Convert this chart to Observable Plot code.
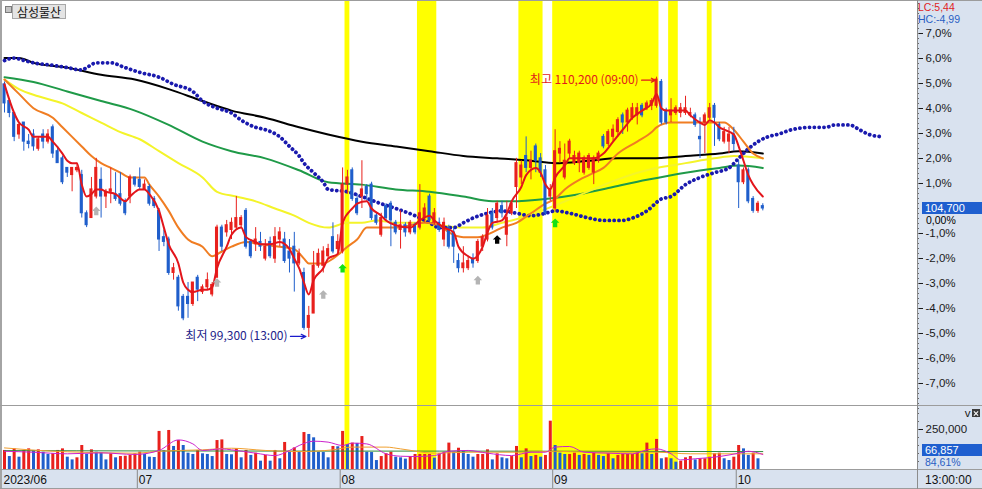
<!DOCTYPE html>
<html><head><meta charset="utf-8">
<script src="https://cdn.jsdelivr.net/npm/d3@7"></script>
<script src="https://cdn.jsdelivr.net/npm/@observablehq/plot@0.6"></script>
<style>
html,body{margin:0;padding:0;background:#fff;}
#wrap{position:relative;width:982px;height:489px;overflow:hidden;background:#fff;font-family:"Liberation Sans","Noto Sans CJK KR",sans-serif;}
#wrap svg{position:absolute;left:0;overflow:visible;background:transparent;}
.abs{position:absolute;}
.lbl{position:absolute;font-size:11px;line-height:12px;height:12px;white-space:nowrap;}
</style></head>
<body><div id="wrap"></div>
<script>
// ---------------- DATA ----------------
const stockName = "삼성물산";
const open = [109900,109200,108700,107800,108300,107500,107800,107200,107800,107500,108100,107100,106800,106400,106100,106300,106100,104500,104300,105200,105900,105200,105400,105300,105300,105000,105200,106000,105900,105500,105600,105100,104600,103500,103400,102000,101800,101000,101000,100700,101800,101200,101400,101100,101800,103900,103700,103800,103900,104000,104600,103300,103200,103300,102600,103300,102600,103400,103400,102900,103100,102400,102000,99700,100300,102300,102300,102700,103500,103000,102900,105700,106300,105100,105200,105600,105700,104400,103600,104800,104900,104100,103800,104000,103700,104000,103900,104300,105200,104100,104100,103400,103900,103700,102500,102200,102200,102600,102500,103100,103400,104500,104300,104800,103600,104500,105600,106000,106900,106400,107300,106800,106300,105200,104700,107000,106000,107000,106600,106600,106200,106400,106200,106700,107700,107400,107700,107900,108600,108300,108500,108600,109000,108900,109000,109000,110000,108800,108600,108700,108700,108700,108600,108600,107700,108300,108500,109000,108200,107500,107500,107800,106500,105800,106300,105100,104600,104800];
const high = [110000,109300,108700,108300,108300,107800,108000,107700,108000,108000,108200,107300,106900,106400,106400,106600,106300,104600,106000,106800,106400,105500,106400,106200,106200,105100,106100,106000,106400,105900,105700,105200,104700,103800,103500,102400,101900,101100,101600,101600,101900,101500,102000,101600,104000,104000,104200,104300,105200,104400,104700,103400,103900,103700,103400,103500,103900,103900,103700,103400,103700,103000,102200,100600,102900,103000,103100,103200,104100,103600,106400,106300,106400,105300,106700,105700,105800,104500,104500,104900,105000,104200,104600,104100,104200,104100,105700,104900,105300,104700,104300,104300,104000,103900,102800,103100,102700,102800,103400,103600,104700,104700,105000,105000,105000,105000,106800,106700,107700,107100,107400,107000,106500,105700,108000,107500,107400,107600,107100,107100,106900,107000,106900,107100,107800,108000,108200,108500,108700,108900,109100,109100,109100,109200,109300,110200,110100,108900,109300,109000,109100,109400,108900,108700,108500,108700,109100,109100,108300,108100,108100,108100,106700,106400,106400,105200,105000,104900];
const low = [108700,108500,107500,107600,107100,107200,107100,107100,107200,107400,106800,106600,105700,106000,105400,106200,104300,103900,104300,105100,104300,104700,104900,105000,104800,104400,104900,105600,105500,105500,104800,104700,102900,103100,101900,101700,100400,100000,100100,100600,100800,101100,101300,101000,101800,102900,103500,103400,103800,103900,103000,102600,102900,102900,102500,102600,102400,103100,102400,102000,101200,102300,99600,99300,100300,102200,102000,102600,102800,102800,102800,105300,105000,104400,104700,105000,104200,104000,103500,104200,103100,103600,103000,103500,103600,103600,103800,104100,104100,104000,103700,103100,103000,102400,102000,102000,102100,102200,102400,102900,103300,103800,104100,104300,103100,104400,104700,105700,106200,105900,106200,106000,104400,105000,104600,106600,105900,106800,106500,106200,106100,106300,105700,106600,107200,107300,107500,107700,107800,107900,108400,108200,108500,108800,108800,108900,108200,108200,108300,108600,108500,108600,108500,108100,106800,107000,108400,107300,107500,107400,107000,107100,104700,105700,104900,104500,104500,104600];
const close = [109100,108700,107700,108200,107500,107400,107300,107600,107500,107800,107000,106600,105800,106200,106400,106400,104500,104000,105500,106400,105200,105400,105500,105100,104900,104500,106000,105700,105600,105700,104900,104800,103400,103300,102000,102200,100600,100100,100700,101600,101300,101400,101700,101500,103900,103100,104000,104100,104300,104300,103100,102700,103400,103100,103100,102700,103500,103700,102500,102600,102400,102800,99700,100200,102300,102800,102900,103000,102900,103300,105700,106000,105100,104500,105500,105300,104300,104100,104300,104300,104200,103700,104000,103700,104100,103700,104500,104700,104200,104500,103800,104100,103100,103100,102200,102400,102500,102400,103300,103500,104400,103900,104900,104500,104300,104900,106600,106500,106400,106700,106700,106200,104500,105500,107100,107200,106700,107500,106900,107000,106800,106900,106800,107000,107300,107900,108000,108400,108300,108800,108900,108900,108600,109100,109200,110100,108300,108300,108800,108900,108900,108900,108700,108200,107600,108600,108900,108500,107600,107900,107800,107400,105800,106300,105000,104600,104900,104700];
const volume = [119000,81000,129000,77000,119000,129000,119000,123000,108000,94000,98000,119000,129000,77000,60000,73000,150000,94000,123000,108000,104000,60000,98000,73000,81000,83000,88000,98000,108000,94000,77000,75000,238000,119000,244000,144000,181000,150000,102000,94000,119000,98000,94000,81000,181000,185000,94000,92000,129000,73000,119000,88000,102000,52000,88000,52000,119000,67000,169000,108000,135000,108000,231000,219000,198000,108000,106000,73000,144000,142000,238000,156000,165000,163000,206000,108000,106000,56000,81000,98000,108000,77000,73000,65000,81000,94000,94000,94000,94000,71000,98000,108000,165000,108000,133000,115000,94000,77000,94000,94000,123000,60000,98000,73000,67000,81000,144000,73000,129000,81000,88000,77000,88000,302000,150000,102000,94000,94000,102000,88000,94000,88000,102000,88000,81000,98000,67000,88000,94000,94000,94000,108000,98000,165000,94000,188000,67000,73000,67000,46000,52000,73000,81000,60000,67000,67000,77000,98000,102000,67000,56000,77000,150000,129000,88000,102000,66857];
// short (red) moving average, read at sampled bars
const maRedIdx = [0,2,3,5,6,7,9,10,12,13,14,15,16,17,18,19,20,21,23,25,26,28,29,30,32,33,34,36,37,38,39,41,42,43,44,46,47,49,50,52,53,55,57,59,60,61,62,63,64,66,67,69,70,72,73,75,76,78,79,81,84,86,88,89,91,93,94,96,97,99,100,101,103,104,105,107,108,110,111,112,113,114,116,117,119,121,122,124,126,128,130,132,134,135,136,137,139,141,142,144,145,146,147,148,149,151,152,153,154,155,157];
const maRed = [109900,108700,108300,108000,107700,107700,107700,107500,107000,106700,106600,106600,105700,105200,105300,105500,105500,105400,105300,105000,105200,105500,105500,105300,104600,103900,103200,102400,101600,101300,101200,101300,101300,101400,102200,103100,103600,103900,103500,103300,103200,103200,103300,103000,102600,102200,101600,101100,101700,102200,102600,102800,104100,104700,104900,105000,104700,104400,104200,104000,103900,104200,104400,104200,103900,103700,103100,102700,102600,103100,103700,104100,104200,104500,105000,105600,106100,106400,106200,105700,105500,106000,106500,106800,106800,106800,106800,107000,107500,108000,108500,108800,109100,109500,108900,108800,108800,108800,108600,108300,108200,108400,108300,108100,108000,107800,107300,106700,106100,105700,105200];
const maOrangeIdx = [0,3,6,10,12,14,16,18,20,22,24,26,29,30,32,34,36,38,41,43,45,47,50,53,57,60,62,63,66,68,71,73,75,78,81,84,87,90,92,95,98,101,103,106,109,112,114,116,119,121,124,127,131,134,135,138,141,144,147,149,151,153,155,157];
const maOrange = [110100,109500,108900,108500,108100,107700,107300,106900,106600,106400,106200,106000,106000,105700,105200,104600,103900,103400,103100,102700,102900,103100,103300,103200,103100,103000,102600,102400,102400,102600,103100,103400,103900,103900,103900,104000,104100,104000,103700,103500,103500,103700,103900,104100,104500,104900,105100,105500,105900,106100,106400,107000,107500,107900,108100,108300,108300,108300,108300,108300,108000,107500,107000,106800];
const maYellowIdx = [0,3,7,12,16,20,24,28,32,36,41,44,48,52,56,60,63,67,71,74,77,81,86,90,95,99,103,105,135,141,147,151,157];
const maYellow = [110100,109700,109400,109100,108700,108300,107900,107600,107100,106600,106000,105400,105200,105000,104700,104400,104100,103900,104100,104100,104200,104100,104100,104000,103900,103900,104100,104200,106400,106600,106800,106900,106800];
const maGreenIdx = [0,6,13,20,27,34,41,47,54,61,67,74,81,88,95,101,105,112,119,126,133,141,148,152,157];
const maGreen = [110200,110000,109600,109200,108800,108200,107500,107100,106800,106300,105800,105700,105500,105400,105200,105000,105000,105100,105300,105600,105900,106200,106400,106500,106400];
const maBlackIdx = [0,3,6,13,20,27,34,41,47,54,61,67,74,81,88,95,102,109,114,121,127,134,141,148,152,157];
const maBlack = [111000,111000,110800,110600,110300,110100,109700,109200,108800,108500,108100,107800,107500,107300,107100,106900,106800,106700,106600,106700,106800,106800,106900,107000,107100,107000];
// leading span (blue dots), extends 26 bars past the last candle
const spanIdx = [0,2,4,6,10,13,16,17,19,22,25,28,32,35,39,41,44,47,49,52,54,57,59,61,62,64,66,67,71,74,78,81,85,88,90,93,95,97,100,103,106,109,112,114,117,121,124,128,130,133,136,138,141,144,147,150,152,154,156,158,160,163,167,170,172,175,177,179,182];
const span = [110900,111000,110900,110800,110700,110600,110500,110600,110800,110800,110600,110400,110200,109900,109600,109200,108900,108700,108400,108100,108000,107700,107300,106900,106600,106200,105800,105500,105400,105200,104900,104700,104400,104100,103900,103900,104100,104300,104500,104600,104500,104400,104500,104600,104500,104300,104200,104200,104300,104600,105100,105200,105700,106000,106200,106400,106800,107200,107500,107700,107800,108000,108100,108100,108200,108200,108000,107800,107700];
// volume moving averages
const vMa1Idx = [0,6,13,20,27,32,36,39,41,45,47,52,56,59,61,64,67,70,72,75,79,82,85,89,92,96,100,105,109,112,114,117,120,125,130,133,135,138,140,143,148,152,154,157];
const vMa1 = [114000,108000,98000,104000,94000,119000,185000,160000,119000,129000,123000,102000,87000,119000,150000,177000,171000,150000,165000,160000,98000,83000,81000,87000,114000,119000,102000,87000,108000,108000,140000,144000,108000,102000,98000,123000,129000,98000,60000,67000,81000,102000,114000,94000];
const vMa2Idx = [0,10,16,27,32,41,47,54,61,68,72,79,82,89,96,100,107,114,121,128,135,142,149,157];
const vMa2 = [135000,114000,108000,102000,114000,123000,133000,119000,112000,123000,140000,140000,129000,102000,108000,108000,108000,114000,108000,108000,108000,98000,98000,98000];
const vMa3Idx = [0,30,60,90,120,150,157];
const vMa3 = [118000,116000,115000,115000,114000,112000,112000];
// highlighted bar ranges (inclusive)
const hlStart = [71,86,107,114,138,146];
const hlEnd   = [71,89,111,135,139,146];
// signal arrows
const sigIdx   = [19,44,66,98,70,114,102];
const sigPrice = [104600,101600,101100,101700,102200,104100,103400];
const sigKind  = ["gray","gray","gray","gray","green","green","black"];
// month labels
const monthIdx = [0,28,70,114,152];
const monthLbl = ["2023/06","07","08","09","10"];
const hiTime = "09:00", loTime = "13:00";
const lcText = "LC:5,44", hcText = "HC:-4,99";
const volRatioText = "84,61%";
const timeText = "13:00:00";
const volTick = [250000];

// ---------------- LAYOUT ----------------
const FONT = '"Liberation Sans","Noto Sans CJK KR",sans-serif';
const KFONT = '"Noto Sans CJK KR","Liberation Sans",sans-serif';
const RED = "#e8201c", BLUE = "#1f5ecb";
const W = 982, PW = 917, HP = 405, HV = 65, HS = 19;
const S = 4.83, X0 = 4;
const xDomain = [-X0 / S, (PW - X0) / S];
const tick2 = 2 / S, xEnd = xDomain[1];
const base = close[close.length - 1];
const zeroY = 208, pxPerPct = 25;
const yDomain = [base * (1 - (HP - zeroY) / pxPerPct / 100), base * (1 + zeroY / pxPerPct / 100)];
const wrap = document.getElementById("wrap");
const comma = d3.format(",");
const pctFmt = v => { const p = Math.round((v / base - 1) * 1000) / 10; return p.toFixed(1).replace(".", ",") + "%"; };

const bars = close.map((c, i) => ({i, o: open[i], h: high[i], l: low[i], c}));
const col = d => d.c >= d.o ? RED : BLUE;
const hl = hlStart.map((s, k) => ({s, e: hlEnd[k]}));
const pts = (ix, vs) => ix.map((i, k) => ({i, v: vs[k]}));
const sigColor = {gray: "#b4b4b4", green: "#16e016", black: "#000000"};
const sigs = sigIdx.map((i, k) => ({i, v: sigPrice[k], c: sigColor[sigKind[k]]}));
const arrowSym = {draw(ctx, size) {
  const r = Math.sqrt(size / Math.PI);
  ctx.moveTo(0, -r); ctx.lineTo(r, 0); ctx.lineTo(r * 0.5, 0); ctx.lineTo(r * 0.5, r);
  ctx.lineTo(-r * 0.5, r); ctx.lineTo(-r * 0.5, 0); ctx.lineTo(-r, 0); ctx.closePath();
}};
const hiI = d3.maxIndex(high), loI = d3.minIndex(low);
const majorPct = [-7,-6,-5,-4,-3,-2,-1,1,2,3,4,5,6,7].map(p => base * (1 + p / 100));
const minorPct = d3.range(-80, 84, 2).map(k => base * (1 + k / 1000));

function bg(left, top, w, h, color) {
  const d = document.createElement("div"); d.className = "abs";
  Object.assign(d.style, {left: left + "px", top: top + "px", width: w + "px", height: h + "px", background: color});
  wrap.appendChild(d); return d;
}
// label positioned by its vertical centre
function labelC(text, left, cy, color, extra) {
  const d = document.createElement("div"); d.className = "lbl"; d.textContent = text;
  Object.assign(d.style, {left: left + "px", top: (cy - 6) + "px", color}, extra || {});
  wrap.appendChild(d); return d;
}

// backgrounds
bg(PW, 0, W - PW, 489, "#d9e2ef");
bg(0, HP + HV, W, HS, "#d9e2ef");

// ---------------- PRICE PANEL ----------------
const price = Plot.plot({
  width: W, height: HP, marginLeft: 0, marginRight: W - PW, marginTop: 0, marginBottom: 0,
  style: {background: "transparent", fontFamily: FONT, fontSize: "12px", overflow: "visible"},
  x: {type: "linear", domain: xDomain, axis: null},
  y: {type: "linear", domain: yDomain, axis: null},
  marks: [
    Plot.rect(hl, {x1: d => d.s - 0.5, x2: d => d.e + 0.5, fill: "#ffff00"}),
    Plot.line(pts(maBlackIdx, maBlack), {x: "i", y: "v", stroke: "#000", strokeWidth: 2, curve: "monotone-x"}),
    Plot.line(pts(maGreenIdx, maGreen), {x: "i", y: "v", stroke: "#1f9a48", strokeWidth: 2, curve: "monotone-x"}),
    Plot.line(pts(maYellowIdx, maYellow), {x: "i", y: "v", stroke: "#f4f42a", strokeWidth: 2, curve: "monotone-x"}),
    Plot.line(pts(spanIdx, span), {x: "i", y: "v", stroke: "#1a1aae", strokeWidth: 3.8, strokeDasharray: "0.1 4.73", strokeLinecap: "round", curve: "monotone-x"}),
    Plot.line(pts(maOrangeIdx, maOrange), {x: "i", y: "v", stroke: "#f07d22", strokeWidth: 2, curve: "monotone-x"}),
    Plot.ruleX(bars, {x: "i", y1: "l", y2: "h", stroke: col, strokeWidth: 1}),
    Plot.rect(bars, {x1: d => d.i - 0.32, x2: d => d.i + 0.32, y1: d => Math.min(d.o, d.c), y2: d => Math.max(d.o, d.c), fill: col, insetTop: -0.5, insetBottom: -0.5}),
    Plot.line(pts(maRedIdx, maRed), {x: "i", y: "v", stroke: "#e3151b", strokeWidth: 2, curve: "monotone-x"}),
    Plot.dot(sigs, {x: "i", y: "v", symbol: arrowSym, r: 4.3, fill: "c", stroke: null}),
    Plot.text([0], {x: hiI - 3.7, y: high[hiI], text: () => `최고 ${comma(high[hiI])} (${hiTime})`, textAnchor: "end", fill: "#e21a1a", dy: 3, fontSize: 12, fontFamily: KFONT}),
    Plot.arrow([0], {x1: hiI - 3.1, x2: hiI - 0.2, y1: high[hiI], y2: high[hiI], dy: 3, stroke: "#e21a1a", strokeWidth: 1.2, headLength: 7, headAngle: 50}),
    Plot.text([0], {x: loI - 4.4, y: low[loI], text: () => `최저 ${comma(low[loI])} (${loTime})`, textAnchor: "end", fill: "#22228a", dy: -1, fontSize: 12, fontFamily: KFONT}),
    Plot.arrow([0], {x1: loI - 3.8, x2: loI - 0.6, y1: low[loI], y2: low[loI], dy: -1, stroke: "#1a1acc", strokeWidth: 1.2, headLength: 7, headAngle: 50}),
    Plot.axisY(majorPct, {anchor: "right", tickSize: 5, tickPadding: 3, tickFormat: pctFmt, color: "#1a1a1a", fontSize: 11.5}),
    Plot.ruleY(minorPct, {y: d => d, x1: xEnd, x2: xEnd + tick2, stroke: "#666"})
  ]
});
price.style.top = "0px";
wrap.appendChild(price);

// current price box and right-side labels
const yLast = price.scale("y").apply(base);
labelC(comma(base), PW + 5, yLast, "#fff", {background: "#1f5fcf", width: "57px", paddingLeft: "3px"});
labelC("0,00%", PW + 9, yLast + 12.3, "#000", {fontSize: "10.5px"});
labelC(lcText, PW + 1, 7, "#e01e1e", {fontSize: "10.5px"});
labelC(hcText, PW + 1, 19.3, "#2a5fc4", {fontSize: "10.5px"});

// ---------------- VOLUME PANEL ----------------
const vbars = volume.map((v, i) => ({i, v, c: i === 0 || v >= volume[i - 1] ? RED : BLUE}));
const vol = Plot.plot({
  width: W, height: HV, marginLeft: 0, marginRight: W - PW, marginTop: 0, marginBottom: 0,
  style: {background: "transparent", fontFamily: FONT, fontSize: "12px", overflow: "visible"},
  x: {type: "linear", domain: xDomain, axis: null},
  y: {type: "linear", domain: [0, 400000], range: [64, 0], axis: null},
  marks: [
    Plot.rect(hl, {x1: d => d.s - 0.5, x2: d => d.e + 0.5, fill: "#ffff00"}),
    Plot.ruleX(vbars, {x: "i", y1: 0, y2: "v", stroke: "c", strokeWidth: 3}),
    Plot.line(pts(vMa3Idx, vMa3), {x: "i", y: "v", stroke: "#2e8b3a", strokeWidth: 1, curve: "monotone-x"}),
    Plot.line(pts(vMa2Idx, vMa2), {x: "i", y: "v", stroke: "#f0a030", strokeWidth: 1, curve: "monotone-x"}),
    Plot.line(pts(vMa1Idx, vMa1), {x: "i", y: "v", stroke: "#cc22cc", strokeWidth: 1, curve: "monotone-x"}),
    Plot.axisY(volTick, {anchor: "right", tickSize: 5, tickPadding: 3, tickFormat: comma, color: "#1a1a1a", fontSize: 11.5}),
    Plot.ruleY(d3.range(50000, 400000, 50000), {y: d => d, x1: xEnd, x2: xEnd + tick2, stroke: "#666"})
  ]
});
vol.style.top = HP + "px";
wrap.appendChild(vol);
labelC(comma(volume[volume.length - 1]), PW + 5, HP + 45, "#fff", {background: "#1f5fcf", width: "57px", paddingLeft: "3px"});
labelC(volRatioText, PW + 8, HP + 57.3, "#2a5fc4", {fontSize: "10.5px"});
// close icon (drawn as shapes)
bg(972, 409, 8, 8, "#3c3c3c");
const l1 = bg(973, 412.5, 6, 1, "#fff"); l1.style.transform = "rotate(45deg)";
const l2 = bg(973, 412.5, 6, 1, "#fff"); l2.style.transform = "rotate(-45deg)";

// ---------------- TIME STRIP ----------------
const strip = Plot.plot({
  width: W, height: HS, marginLeft: 0, marginRight: W - PW, marginTop: 0, marginBottom: 0,
  style: {background: "transparent", fontFamily: FONT, fontSize: "12px", overflow: "visible"},
  x: {type: "linear", domain: xDomain, axis: null},
  marks: [
    Plot.ruleX(monthIdx.slice(1), {x: d => d - 0.5, stroke: "#8a8a8a"}),
    Plot.text(monthIdx, {x: d => d, text: (d, k) => monthLbl[k], textAnchor: "start", frameAnchor: "middle", dx: -1, fill: "#111", fontSize: 12})
  ]
});
strip.style.top = (HP + HV) + "px";
wrap.appendChild(strip);
labelC(timeText, PW + 8, HP + HV + 9.5, "#111", {fontSize: "12px"});

// ---------------- FRAME LINES & TITLE ----------------
bg(0, 0, W, 1, "#9c9c9c");
bg(0, 0, 2, 489, "#a4a4a4");
bg(0, HP, W, 1, "#9c9c9c");
bg(0, HP + HV - 1, W, 1, "#9c9c9c");
bg(0, 488, W, 1, "#9c9c9c");
bg(PW, 0, 1, 489, "#8c8c8c");
const sq = bg(5, 6, 5, 5, "#c4c4c4"); sq.style.border = "1px solid #7a7a7a";
labelC(stockName, 12, 9.5, "#111", {background: "#e4e4e4", border: "1px solid #a8a8a8", padding: "0 4px", height: "13px", lineHeight: "13px", fontSize: "12px", fontFamily: KFONT});
</script></body></html>
